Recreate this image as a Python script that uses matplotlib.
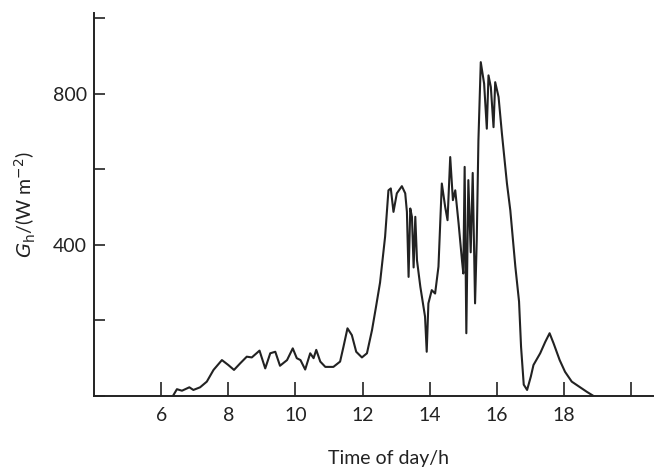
import matplotlib
matplotlib.use('Agg')
import matplotlib.pyplot as plt

# time of day (h) and global horizontal irradiance (W m-2)
time_h = [6.35, 6.47, 6.62, 6.84, 6.96, 7.16, 7.36, 7.56, 7.81, 8.00,
          8.17, 8.35, 8.55, 8.70, 8.93, 9.10, 9.25, 9.40, 9.54, 9.75,
          9.92, 10.04, 10.15, 10.29, 10.44, 10.54, 10.62, 10.74, 10.89, 11.13,
          11.33, 11.43, 11.55, 11.68, 11.81, 11.98, 12.13, 12.28, 12.40, 12.52,
          12.67, 12.77, 12.84, 12.92, 13.02, 13.17, 13.27, 13.32, 13.37, 13.42,
          13.47, 13.52, 13.57, 13.62, 13.72, 13.86, 13.91, 13.96, 14.06, 14.16,
          14.26, 14.36, 14.46, 14.53, 14.61, 14.69, 14.76, 14.86, 14.96, 15.00,
          15.04, 15.09, 15.15, 15.22, 15.28, 15.35, 15.40, 15.45, 15.52, 15.62,
          15.70, 15.75, 15.82, 15.90, 15.95, 16.05, 16.15, 16.30, 16.40, 16.55,
          16.66, 16.72, 16.80, 16.90, 17.01, 17.09, 17.29, 17.44, 17.57, 17.69,
          17.87, 18.03, 18.23, 18.48, 18.68, 18.88]
g_h = [0, 18, 14, 23, 16, 23, 38, 69, 95, 82,
       69, 86, 104, 102, 120, 73, 113, 117, 80, 95,
       126, 100, 95, 70, 113, 100, 122, 91, 77, 77,
       91, 130, 179, 161, 117, 102, 113, 174, 236, 300,
       421, 544, 549, 487, 536, 555, 536, 487, 315, 496,
       474, 340, 474, 359, 289, 210, 117, 245, 280, 271,
       342, 562, 500, 465, 632, 518, 544, 456, 359, 324,
       606, 166, 571, 380, 590, 245, 412, 676, 883, 826,
       707, 848, 817, 711, 830, 791, 694, 562, 491, 342,
       250, 130, 30, 16, 51, 82, 113, 143, 166, 139,
       95, 64, 38, 23, 11, 0]

x_ticks = [6, 8, 10, 12, 14, 16, 18, 20]
x_labels = ['6', '8', '10', '12', '14', '16', '18', '']
y_ticks = [0, 200, 400, 600, 800, 1000]
y_labels = ['', '', '400', '', '800', '']

plt.rcParams['font.family'] = ['Lato', 'DejaVu Sans']

fig = plt.figure(figsize=(6.55, 4.75), dpi=100)
ax = fig.add_axes([94 / 655, 1 - 396 / 475, 559 / 655, 383 / 475])

ax.plot(time_h, g_h, color='#222222', linewidth=1.5)

ax.set_xlim(4, 20.65)
ax.set_ylim(0, 1013)
ax.set_xticks(x_ticks)
ax.set_xticklabels(x_labels)
ax.set_yticks(y_ticks)
ax.set_yticklabels(y_labels)

for side in ['top', 'right']:
    ax.spines[side].set_visible(False)
for side in ['left', 'bottom']:
    ax.spines[side].set_linewidth(1.4)
    ax.spines[side].set_color('#222222')

ax.tick_params(direction='in', width=1.2, color='#222222',
               labelsize=14, labelcolor='#222222')
ax.tick_params(axis='x', length=10, pad=8)
ax.tick_params(axis='y', length=8, pad=5)

ax.set_xlabel('Time of day/h', fontsize=14, color='#222222')
ax.xaxis.set_label_coords(0.526, -0.142)
ax.set_ylabel(r'$G_\mathrm{h}$/(W m$^{-2}$)', fontsize=14, color='#222222')
ax.yaxis.set_label_coords(-0.1, 0.5)

fig.savefig('out.png', dpi=100)
